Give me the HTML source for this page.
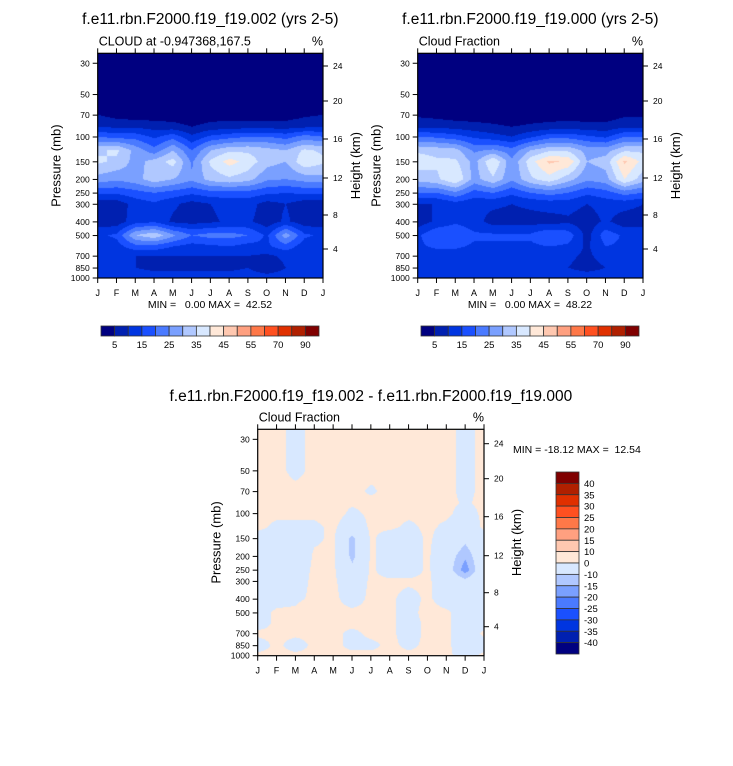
<!DOCTYPE html>
<html><head><meta charset="utf-8">
<style>
html,body{margin:0;padding:0;background:#fff;}
#root{position:relative;width:733px;height:766px;overflow:hidden;font-family:"Liberation Sans",Arial,sans-serif;}
canvas{position:absolute;}
svg{position:absolute;left:0;top:0;}
</style></head>
<body>
<div id="root">
<canvas id="c1"></canvas>
<canvas id="c2"></canvas>
<canvas id="c3"></canvas>
<svg id="svg" width="733" height="766"></svg>
</div>
<script>
// ---- data ----
const months = ["J","F","M","A","M","J","J","A","S","O","N","D","J"];
const levels = [25,50,70,85,100,125,150,200,250,300,400,500,600,700,850,1000];
const pTickLabels = [30,50,70,100,150,200,250,300,400,500,700,850,1000];
const hTickLabels = [24,20,16,12,8,4];
const hTickOffsets = [212,177,139,100,63,29]; // km tick heights above 1000mb (axis layout)
const topBounds = [5,10,15,20,25,30,35,40,45,50,55,60,70,80,90];
const topBarLabels = ["5","15","25","35","45","55","70","90"];
const diffBounds = [-40,-35,-30,-25,-20,-15,-10,0,10,15,20,25,30,35,40];
const diffBarLabels = ["40","35","30","25","20","15","10","0","-10","-15","-20","-25","-30","-35","-40"];
const cloud002 = [
[0,0,0,0,0,0,0,0,0,0,0,0],
[0,0,0,0,0,0,0,0,0,0,0,0],
[5,3,2,2,2,1,2,2,2,2,2,4],
[10,9,9,8,7,5,7,8,8,8,8,9],
[20,18,18,14,18,11,16,18,20,20,18,22],
[34,36,28,22,30,20,30,34,34,32,30,36],
[36,34,28,32,37,24,36,42,38,32,30,39],
[28,26,28,33,30,26,32,34,32,26,25,27],
[16,16,18,20,18,16,18,18,18,16,15,16],
[7,7,12,14,11,8,10,12,12,8,10,7],
[7,7,13,14,9,8,9,11,11,7,11,7],
[14,16,30,34,26,20,22,22,20,14,28,16],
[12,13,18,18,15,13,14,15,13,14,18,12],
[11,11,10,10,10,10,10,10,10,9,11,11],
[10,10,10,9,9,9,9,9,10,7,10,10],
[12,14,12,12,12,12,12,12,12,12,12,12]];
const cloud000 = [
[0,0,0,0,0,0,0,0,0,0,0,0],
[0,0,0,0,0,0,0,0,0,0,0,0],
[4,3,2,2,2,1,2,2,2,2,2,4],
[9,9,8,7,6,5,6,7,8,7,7,9],
[20,19,17,14,12,10,14,18,18,16,14,20],
[34,33,32,24,26,22,30,34,34,28,28,34],
[38,36,36,28,40,26,38,46,44,30,32,46],
[32,34,40,28,34,26,34,38,32,26,28,40],
[20,20,24,18,20,16,20,22,20,16,18,22],
[10,10,13,11,11,10,11,12,12,10,12,12],
[7,11,14,12,8,8,8,8,9,7,11,7],
[14,20,20,16,16,16,16,20,18,8,18,14],
[14,16,16,14,14,14,14,15,14,9,15,14],
[12,12,12,12,12,12,12,12,11,9,12,12],
[11,11,11,11,11,11,11,10,10,8,10,11],
[14,13,13,13,13,13,13,13,13,13,13,13]];
const cloudDiff = [
[1,1,-1,1,1,1,1,1,1,1,1,-1],
[1,1,-1,1,1,1,1,1,1,1,1,-1],
[1,1,1,1,1,1,-0.5,1,1,1,1,-1],
[1,1,1,1,1,0.5,1,1,1,1,1,-0.5],
[1,1,1,1,2,-1,1,1,1,1,1,-2],
[1,-1,-1,-1,1,-4,1,1,-1,1,-1,-4],
[-2,-2,-2,-1,1,-12,1,-3,-3,1,-3,-8],
[-3,-3,-6,1,1,-12,1,-3,-3,1,-6,-14],
[-3,-3,-3,1,1,-8,1,-3,-3,1,-6,-18],
[-3,-3,-2,1,1,-4,1,1,1,1,-4,-8],
[-3,-2,-1,1,1,-2,1,1,-2,1,-3,-3],
[-2,1,1,5,1,1,1,1,-2,2,1,-3],
[-2,1,1,1,1,1,1,1,-2,1,1,-3],
[1,1,1,1,1,-1,1,1,-2,1,1,-3],
[-2,1,-2,1,1,-1,-1,1,-1,1,1,-3],
[1,1,1,1,1,1,1,1,1,1,1,-2]];

const topColors = ["#000080","#0020b0","#0035e0","#1a50ff","#4a7aff","#7aa0ff","#b0c8ff","#d8e8ff","#ffe8d8","#ffc8b0","#ffa080","#ff7848","#ff5020","#e03000","#b02000","#800000"];
const diffColors = ["#000080","#0020b0","#0035e0","#1a50ff","#4a7aff","#7aa0ff","#b0c8ff","#d8e8ff","#ffe8d8","#ffc8b0","#ffa080","#ff7848","#ff5020","#e03000","#b02000","#800000"];

const NS="http://www.w3.org/2000/svg";
const svg=document.getElementById('svg');
function mk(tag,attrs,parent,txt){const e=document.createElementNS(NS,tag);for(const k in attrs)e.setAttribute(k,attrs[k]);if(txt!==undefined)e.textContent=txt;(parent||svg).appendChild(e);return e;}
function hex(c){return [parseInt(c.substr(1,2),16),parseInt(c.substr(3,2),16),parseInt(c.substr(5,2),16)];}

function plot(cfg){
  const {x0,x1,y0,y1,data,bounds,colors,canvasId,name}=cfg;
  const W=x1-x0,H=y1-y0;
  const pxPerLn=H/Math.log(1000/25.5);
  const yScale=p=>y1-pxPerLn*Math.log(1000/p);
  const xScale=m=>x0+W*m/12;
  // fill
  const cv=document.getElementById(canvasId);
  cv.width=Math.round(W);cv.height=Math.round(H);
  cv.style.left=x0+'px';cv.style.top=y0+'px';
  const ctx=cv.getContext('2d');const img=ctx.createImageData(cv.width,cv.height);
  const lnl=levels.map(p=>Math.log(p));
  const rgb=colors.map(hex);
  for(let j=0;j<cv.height;j++){
    const yy=y0+j+0.5;
    const lp=Math.log(1000)-(y1-yy)/pxPerLn;
    let k=0;while(k<levels.length-2&&lnl[k+1]<lp)k++;
    let t=(lp-lnl[k])/(lnl[k+1]-lnl[k]);t=Math.max(0,Math.min(1,t));
    for(let i=0;i<cv.width;i++){
      const m=(i+0.5)/W*12;let c=Math.floor(m);if(c>11)c=11;const u=m-c;const c2=(c+1)%12;
      const a=data[k][c]*(1-u)+data[k][c2]*u;
      const b=data[k+1][c]*(1-u)+data[k+1][c2]*u;
      const v=a*(1-t)+b*t;
      let bi=0;while(bi<bounds.length&&v>=bounds[bi])bi++;
      const col=rgb[bi];const o=(j*cv.width+i)*4;
      img.data[o]=col[0];img.data[o+1]=col[1];img.data[o+2]=col[2];img.data[o+3]=255;
    }
  }
  ctx.putImageData(img,0,0);
  const g=mk('g',{});
  
  
  const fr=mk('rect',{x:x0,y:y0,width:W,height:H,fill:'none',stroke:'#000','stroke-width':1.2},g);
  
  months.forEach((mo,i)=>{
    const x=xScale(i);
    mk('line',{x1:x,x2:x,y1:y1,y2:y1+5,stroke:'#000','stroke-width':1},g);
    mk('line',{x1:x,x2:x,y1:y0,y2:y0-5,stroke:'#000','stroke-width':1},g);
    const t=mk('text',{x:x,y:y1+18,'font-size':9,'text-anchor':'middle'},g,mo);
    
  });
  pTickLabels.forEach(p=>{
    const y=yScale(p);
    mk('line',{x1:x0,x2:x0-5,y1:y,y2:y,stroke:'#000','stroke-width':1},g);
    const t=mk('text',{x:x0-8,y:y+3,'font-size':8.5,'text-anchor':'end'},g,String(p));
    
  });
  hTickLabels.forEach((h,i)=>{
    const y=y1-hTickOffsets[i];
    mk('line',{x1:x1,x2:x1+5,y1:y,y2:y,stroke:'#000','stroke-width':1},g);
    const t=mk('text',{x:x1+10,y:y+3,'font-size':8.5},g,String(h));
    
  });
  const cy=(y0+y1)/2;
  const pl=mk('text',{x:0,y:0,'font-size':13,'text-anchor':'middle',transform:`translate(${x0-37},${cy}) rotate(-90)`},g,'Pressure (mb)');
  
  const hl=mk('text',{x:0,y:0,'font-size':13,'text-anchor':'middle',transform:`translate(${x1+37},${cy}) rotate(-90)`},g,'Height (km)');
  
  const st=mk('text',{x:x0+1,y:y0-8,'font-size':12.5},g,cfg.sub);
  
  const pc=mk('text',{x:x1,y:y0-8,'font-size':12.5,'text-anchor':'end'},g,'%');
  
  const tt=mk('text',{x:(x0+x1)/2,y:cfg.titleY,'font-size':15.5,'text-anchor':'middle'},g,cfg.title);
  
}

function hbar(x0,x1,y0,y1,name){
  const g=mk('g',{});
  const n=topColors.length,w=(x1-x0)/n;
  topColors.forEach((c,i)=>{const r=mk('rect',{x:x0+i*w,y:y0,width:w,height:y1-y0,fill:c,stroke:'#333','stroke-width':0.8},g);
    });
  topBarLabels.forEach((l,i)=>{const t=mk('text',{x:x0+w*(1+2*i),y:y1+12,'font-size':9.5,'text-anchor':'middle'},g,l);
    });
}
function vbar(x0,x1,y0,y1){
  const g=mk('g',{});
  const n=diffColors.length,h=(y1-y0)/n;
  diffColors.slice().reverse().forEach((c,i)=>{const r=mk('rect',{x:x0,y:y0+i*h,width:x1-x0,height:h,fill:c,stroke:'#333','stroke-width':0.8},g);
    });
  diffBarLabels.forEach((l,i)=>{const t=mk('text',{x:x1+5,y:y0+h*(i+1)+3.5,'font-size':9.5},g,l);
    });
}

plot({x0:97.7,x1:323,y0:53.3,y1:278,data:cloud002,bounds:topBounds,colors:topColors,canvasId:'c1',name:'panel-002',sub:'CLOUD at -0.947368,167.5',title:'f.e11.rbn.F2000.f19_f19.002 (yrs 2-5)',titleY:24});
plot({x0:417.7,x1:643,y0:53.3,y1:278,data:cloud000,bounds:topBounds,colors:topColors,canvasId:'c2',name:'panel-000',sub:'Cloud Fraction',title:'f.e11.rbn.F2000.f19_f19.000 (yrs 2-5)',titleY:24});
plot({x0:257.7,x1:484,y0:429.3,y1:655.7,data:cloudDiff,bounds:diffBounds,colors:diffColors,canvasId:'c3',name:'panel-difference',sub:'Cloud Fraction',title:'f.e11.rbn.F2000.f19_f19.002 - f.e11.rbn.F2000.f19_f19.000',titleY:401});
hbar(101,319,326,336,'colorbar-002');
hbar(421,639,326,336,'colorbar-000');
vbar(556,579,472,654);
[[210,308,'MIN =   0.00 MAX =  42.52','minmax-002','middle'],[530,308,'MIN =   0.00 MAX =  48.22','minmax-000','middle'],[513,453,'MIN = -18.12 MAX =  12.54','minmax-difference','start']].forEach(a=>{
  const t=mk('text',{x:a[0],y:a[1],'font-size':10.5,'text-anchor':a[4],'xml:space':'preserve'},svg,a[2]);
  t.setAttribute('style','white-space:pre');
  
});
</script>
</body></html>
